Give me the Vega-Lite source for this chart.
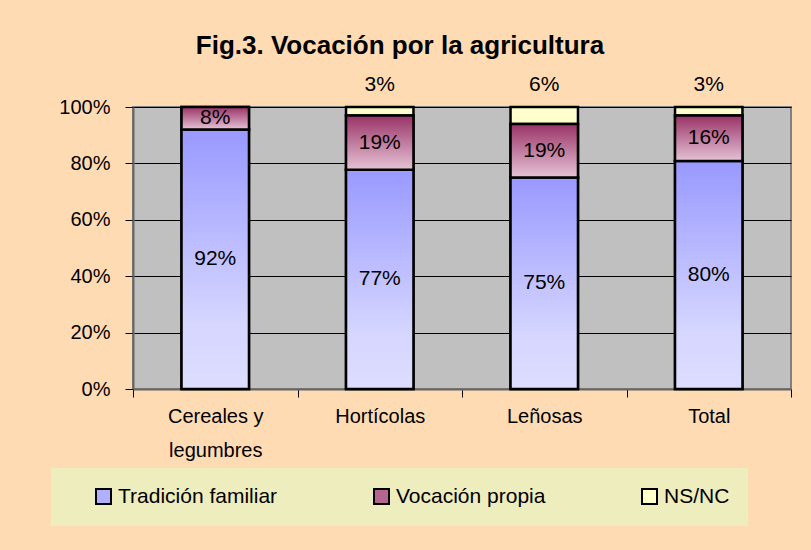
{
  "$schema": "https://vega.github.io/schema/vega-lite/v6.json",
  "width": 658,
  "height": 282,
  "autosize": {"type": "none"},
  "padding": {"left": 133, "top": 107, "right": 20, "bottom": 161},
  "background": "#FFDBB4",
  "title": {
    "text": "Fig.3. Vocación por la agricultura",
    "font": "Liberation Sans",
    "fontSize": 26,
    "fontWeight": "bold",
    "color": "#000000",
    "anchor": "middle",
    "frame": "group",
    "baseline": "alphabetic",
    "offset": -6,
    "dx": -62
  },
  "data": {
    "values": [
      {"grupo": "Cereales y legumbres", "serie": "Tradición familiar", "orden": 1, "valor": 0.92},
      {"grupo": "Cereales y legumbres", "serie": "Vocación propia", "orden": 2, "valor": 0.08},
      {"grupo": "Hortícolas", "serie": "Tradición familiar", "orden": 1, "valor": 0.77},
      {"grupo": "Hortícolas", "serie": "Vocación propia", "orden": 2, "valor": 0.19},
      {"grupo": "Hortícolas", "serie": "NS/NC", "orden": 3, "valor": 0.03},
      {"grupo": "Leñosas", "serie": "Tradición familiar", "orden": 1, "valor": 0.75},
      {"grupo": "Leñosas", "serie": "Vocación propia", "orden": 2, "valor": 0.19},
      {"grupo": "Leñosas", "serie": "NS/NC", "orden": 3, "valor": 0.06},
      {"grupo": "Total", "serie": "Tradición familiar", "orden": 1, "valor": 0.80},
      {"grupo": "Total", "serie": "Vocación propia", "orden": 2, "valor": 0.16},
      {"grupo": "Total", "serie": "NS/NC", "orden": 3, "valor": 0.03}
    ]
  },
  "encoding": {
    "x": {
      "field": "grupo",
      "type": "nominal",
      "sort": ["Cereales y legumbres", "Hortícolas", "Leñosas", "Total"],
      "scale": {"paddingInner": 0, "paddingOuter": 0},
      "axis": {
        "title": null,
        "labelAngle": 0,
        "tickBand": "extent",
        "tickSize": 8,
        "tickColor": "#000000",
        "domainColor": "#666666",
        "domainWidth": 2,
        "labelFont": "Liberation Sans",
        "labelFontSize": 20,
        "labelColor": "#000000",
        "labelPadding": 9,
        "labelLineHeight": 34,
        "labelExpr": "datum.label == 'Cereales y legumbres' ? ['Cereales y', 'legumbres'] : datum.label"
      }
    },
    "y": {
      "field": "valor",
      "type": "quantitative",
      "stack": "normalize",
      "scale": {"domain": [0, 1]},
      "axis": {
        "title": null,
        "format": ".0%",
        "values": [0, 0.2, 0.4, 0.6, 0.8, 1],
        "grid": true,
        "gridColor": "#000000",
        "gridWidth": 1,
        "tickColor": "#000000",
        "tickSize": 8,
        "domainColor": "#666666",
        "domainWidth": 2,
        "labelFont": "Liberation Sans",
        "labelFontSize": 20,
        "labelColor": "#000000",
        "labelPadding": 15
      }
    },
    "order": {"field": "orden", "type": "quantitative"},
    "detail": {"field": "serie", "type": "nominal"}
  },
  "layer": [
    {
      "mark": {"type": "bar", "width": {"band": 0.41}, "stroke": "#000000", "strokeWidth": 2.5, "opacity": 1},
      "encoding": {
        "color": {
          "field": "serie",
          "type": "nominal",
          "scale": {
            "domain": ["Tradición familiar", "Vocación propia", "NS/NC"],
            "range": ["#B0B0FF", "#B5668E", "#FFFFCC"]
          },
          "legend": {
            "orient": "none",
            "legendX": -82,
            "legendY": 361,
            "direction": "horizontal",
            "columns": 3,
            "columnPadding": 92,
            "padding": 18,
            "fillColor": "#EEEDBD",
            "symbolType": "square",
            "symbolSize": 225,
            "symbolStrokeColor": "#000000",
            "symbolStrokeWidth": 2,
            "symbolOpacity": 1,
            "labelFont": "Liberation Sans",
            "labelFontSize": 21,
            "labelColor": "#000000",
            "labelOffset": 4,
            "title": " ",
            "titleOrient": "left",
            "titleFontSize": 21,
            "titlePadding": 24
          }
        }
      }
    },
    {
      "mark": {
        "type": "bar",
        "width": {"band": 0.41},
        "stroke": "#000000",
        "strokeWidth": 2.5,
        "color": {"gradient": "linear", "x1": 0, "y1": 0, "x2": 0, "y2": 1, "stops": [{"offset": 0, "color": "#9999FF"}, {"offset": 0.75, "color": "#D6D6FF"}, {"offset": 1, "color": "#DDDDFF"}]}
      },
      "encoding": {
        "opacity": {"condition": {"test": "datum.serie == 'Tradición familiar'", "value": 1}, "value": 0}
      }
    },
    {
      "mark": {
        "type": "bar",
        "width": {"band": 0.41},
        "stroke": "#000000",
        "strokeWidth": 2.5,
        "color": {"gradient": "linear", "x1": 0, "y1": 0, "x2": 0, "y2": 1, "stops": [{"offset": 0, "color": "#993366"}, {"offset": 1, "color": "#E6C3D6"}]}
      },
      "encoding": {
        "opacity": {"condition": {"test": "datum.serie == 'Vocación propia'", "value": 1}, "value": 0}
      }
    },
    {
      "mark": {"type": "text", "font": "Liberation Sans", "fontSize": 21, "color": "#000000", "baseline": "middle"},
      "encoding": {
        "y": {"field": "valor", "type": "quantitative", "stack": "normalize", "bandPosition": 0.5},
        "text": {"field": "valor", "type": "quantitative", "format": ".0%"},
        "opacity": {"condition": {"test": "datum.serie == 'NS/NC'", "value": 0}, "value": 1}
      }
    },
    {
      "transform": [{"filter": "datum.serie == 'NS/NC'"}],
      "mark": {"type": "text", "font": "Liberation Sans", "fontSize": 21, "color": "#000000", "baseline": "middle", "dy": -22},
      "encoding": {
        "y": {"datum": 1, "type": "quantitative"},
        "text": {"field": "valor", "type": "quantitative", "format": ".0%"}
      }
    }
  ],
  "config": {
    "view": {"fill": "#C0C0C0", "stroke": "#808080", "strokeWidth": 2}
  }
}
